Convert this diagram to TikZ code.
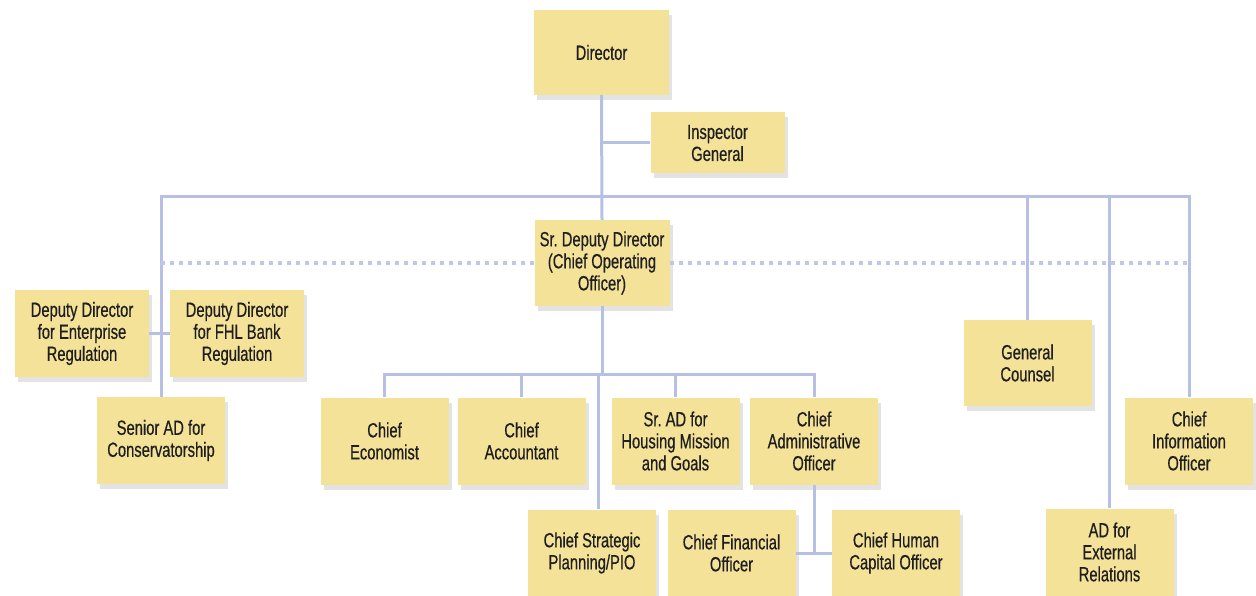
\documentclass[tikz,border=0pt]{standalone}
\usepackage{fontspec}
\setmainfont{Liberation Sans}[FakeStretch=0.72,FakeBold=0.5]
\usepackage{tikz}
\usetikzlibrary{calc,shadows}
\definecolor{boxfill}{RGB}{244,226,152}
\definecolor{linkblue}{RGB}{183,192,228}
\definecolor{dotblue}{RGB}{192,199,232}
\definecolor{textgray}{RGB}{30,30,30}
\frenchspacing
\tikzset{
  box/.style={fill=boxfill,inner sep=0pt,align=center,text=textgray,
    minimum width=128pt,minimum height=87pt,
    font=\fontsize{20.5}{22}\selectfont,
    drop shadow={opacity=0.22,shadow xshift=3pt,shadow yshift=-5pt}},
  link/.style={draw=linkblue,line width=3pt},
  dotlink/.style={draw=dotblue,line width=4pt,dash pattern=on 4pt off 5pt}
}

\begin{document}
\begin{tikzpicture}[x=1pt,y=-1pt]
              \useasboundingbox (0,0) rectangle (1256,596);

              % top of the chart
              \node[box,minimum width=135pt,minimum height=85pt] (dir) at (601.5,52.5) {Director};
              \node[box,minimum width=134pt,minimum height=61pt] (ig) at (717.5,143) {Inspector\\General};
              \node[box,minimum width=135pt,minimum height=86pt] (srdd) at (602,263) {Sr. Deputy Director\\(Chief Operating\\Officer)};
              \coordinate (top) at (602,197);
              \coordinate (bar) at (602,374);

              % left branch
              \node[box,minimum width=134pt] (dde) at (82,333.5) {Deputy Director\\for Enterprise\\Regulation};
              \node[box,minimum width=134pt] (ddf) at (237,333.5) {Deputy Director\\for FHL Bank\\Regulation};
              \node[box] (sen) at (161,440.5) {Senior AD for\\Conservatorship};

              % under the Sr. Deputy Director
              \node[box] (ce) at (384.5,441) {Chief\\Economist};
              \node[box] (ca) at (521.5,441) {Chief\\Accountant};
              \node[box] (hm) at (675.5,441) {Sr. AD for\\Housing Mission\\and Goals};
              \node[box] (cao) at (814,441) {Chief\\Administrative\\Officer};
              \node[box] (csp) at (592,553) {Chief Strategic\\Planning/PIO};
              \node[box] (cfo) at (731.5,553) {Chief Financial\\Officer};
              \node[box] (chc) at (896,553) {Chief Human\\Capital Officer};

              % right branch
              \node[box,minimum height=86pt] (gc) at (1027.5,363) {General\\Counsel};
              \node[box] (adx) at (1109.5,552) {AD for\\External\\Relations};
              \node[box] (cio) at (1189,441) {Chief\\Information\\Officer};

              % connectors
              \draw[link] (dir.south) -- (srdd.north);
              \draw[link] (ig.west) -- (ig.west -| dir.south);
              \draw[link] (sen.north) |- (cio.north |- top) -- (cio.north);
              \draw[link] (gc.north) -- (gc.north |- top);
              \draw[link] (adx.north) -- (adx.north |- top);
              \draw[link] (dde.east) -- (ddf.west);

              \draw[dotlink] (srdd.west) -- (srdd.west -| sen.north);
              \draw[dotlink] (srdd.east) -- (srdd.east -| cio.north);

              \draw[link] (srdd.south) -- (bar);
              \draw[link] (ce.north) |- (cao.north |- bar) -- (cao.north);
              \draw[link] (ca.north) -- (ca.north |- bar);
              \draw[link] (hm.north) -- (hm.north |- bar);
              \draw[link] ([xshift=6pt]csp.north) -- ([xshift=6pt]csp.north |- bar);
              \draw[link] (cao.south) -- (cao.south |- cfo.east);
              \draw[link] (cfo.east) -- (chc.west);

            \end{tikzpicture}
\end{document}
